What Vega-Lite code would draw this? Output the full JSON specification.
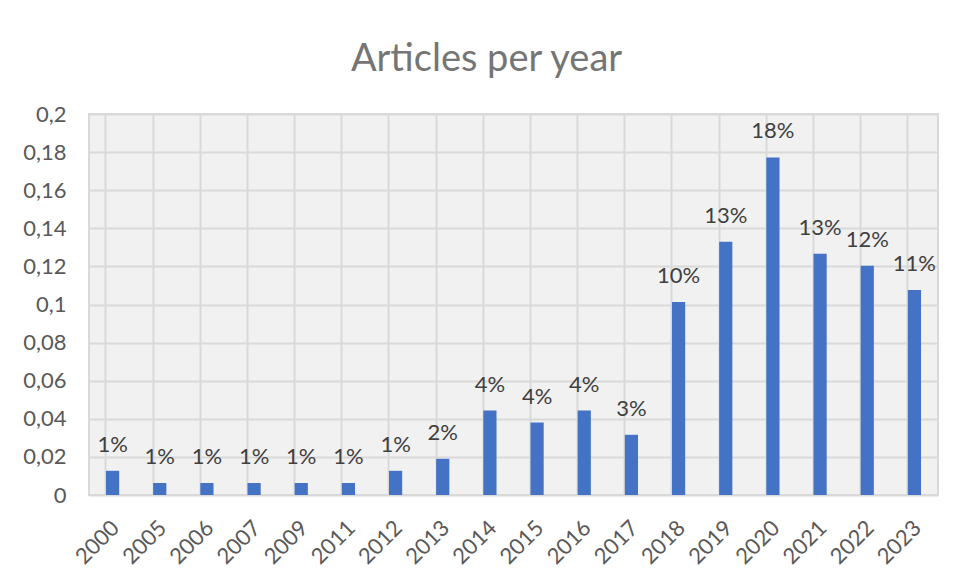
{
  "$schema": "https://vega.github.io/schema/vega-lite/v6.json",
  "width": 849,
  "height": 381,
  "autosize": {"type": "none"},
  "padding": {"left": 89, "top": 114, "right": 15, "bottom": 86},
  "background": "white",
  "title": {
    "text": "Articles per year",
    "font": "Lato",
    "fontSize": 38,
    "fontWeight": "normal",
    "color": "#757575",
    "anchor": "middle",
    "dx": -27,
    "offset": 24
  },
  "config": {
    "view": {"stroke": "#d9d9d9", "strokeWidth": 2, "fill": "#f1f1f1"},
    "font": "Lato"
  },
  "data": {
    "values": [
      {"year": "2000", "share": 0.0127},
      {"year": "2005", "share": 0.0063},
      {"year": "2006", "share": 0.0063},
      {"year": "2007", "share": 0.0063},
      {"year": "2009", "share": 0.0063},
      {"year": "2011", "share": 0.0063},
      {"year": "2012", "share": 0.0127},
      {"year": "2013", "share": 0.019},
      {"year": "2014", "share": 0.0443},
      {"year": "2015", "share": 0.038},
      {"year": "2016", "share": 0.0443},
      {"year": "2017", "share": 0.0316},
      {"year": "2018", "share": 0.1013},
      {"year": "2019", "share": 0.1329},
      {"year": "2020", "share": 0.1772},
      {"year": "2021", "share": 0.1266},
      {"year": "2022", "share": 0.1203},
      {"year": "2023", "share": 0.1076}
    ]
  },
  "encoding": {
    "x": {
      "field": "year",
      "type": "nominal",
      "sort": null,
      "scale": {"paddingInner": 0.72, "paddingOuter": 0.36},
      "axis": {
        "title": null,
        "labelAngle": -45,
        "labelFontSize": 22,
        "labelColor": "#595959",
        "labelFont": "Lato",
        "domain": false,
        "ticks": false,
        "labelPadding": 22,
        "labelOffset": -4,
        "grid": true,
        "bandPosition": 0,
        "gridColor": "#d9d9d9",
        "gridWidth": 2
      }
    },
    "y": {
      "field": "share",
      "type": "quantitative",
      "scale": {"domain": [0, 0.2]},
      "axis": {
        "title": null,
        "values": [0, 0.02, 0.04, 0.06, 0.08, 0.1, 0.12, 0.14, 0.16, 0.18, 0.2],
        "labelExpr": "replace(format(datum.value, '~g'), '.', ',')",
        "labelFontSize": 22,
        "labelColor": "#595959",
        "labelFont": "Lato",
        "domain": false,
        "ticks": false,
        "labelPadding": 23,
        "gridColor": "#d9d9d9",
        "gridWidth": 2
      }
    }
  },
  "layer": [
    {"mark": {"type": "bar", "color": "#4472c4"}},
    {
      "mark": {"type": "text", "dy": -19, "baseline": "alphabetic", "fontSize": 22, "color": "#404040", "font": "Lato"},
      "encoding": {"text": {"field": "share", "type": "quantitative", "format": ".0%"}}
    }
  ]
}
